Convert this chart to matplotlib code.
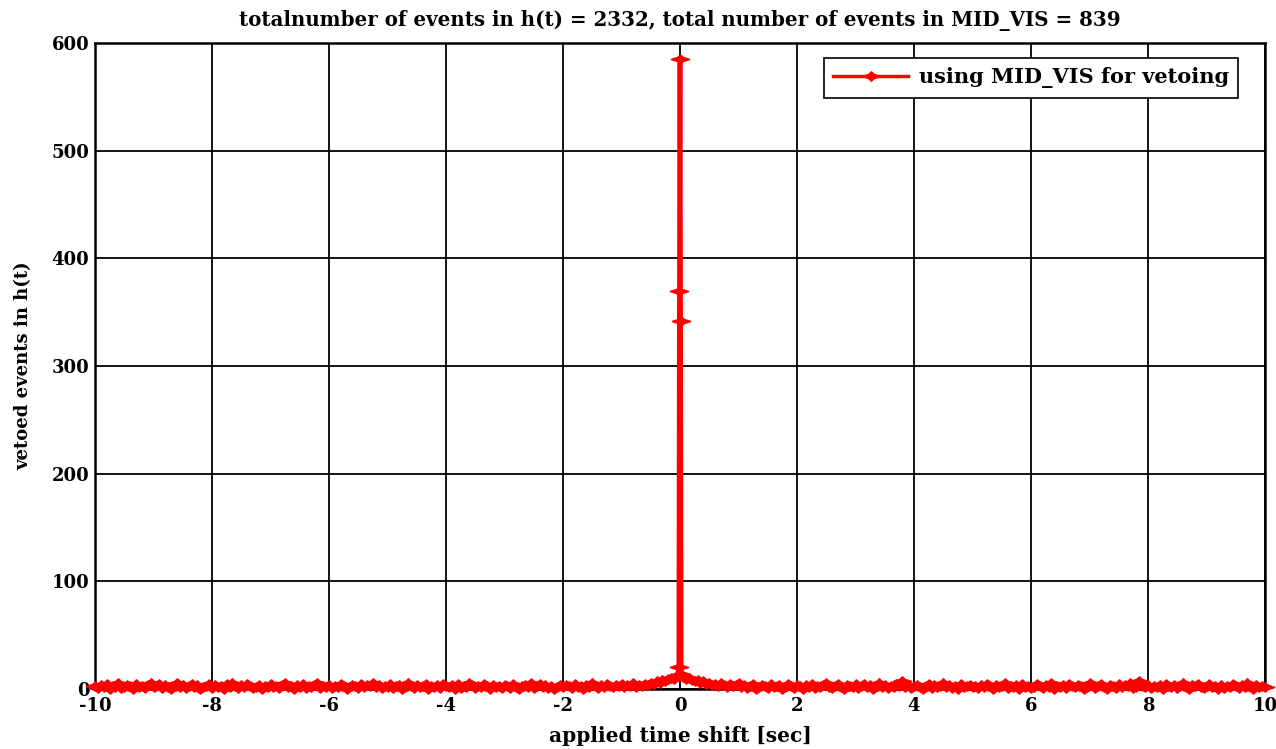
import numpy as np
import matplotlib
matplotlib.use("Agg")
import matplotlib.pyplot as plt
from matplotlib.path import Path

# Vetoed h(t) events per applied time shift (0.05 s steps, x = 0 handled separately)
neg_counts = [
    3, 1, 4, 2, 5, 0, 3, 2, 6, 1, 2, 4, 3, 0, 5, 2, 3, 1, 4, 6,
    2, 3, 5, 1, 4, 2, 0, 3, 6, 2, 4, 1, 3, 5, 2, 4, 0, 2, 3, 5,
    1, 4, 2, 3, 0, 5, 2, 6, 3, 1, 4, 2, 5, 3, 1, 2, 4, 0, 3, 2,
    5, 2, 3, 1, 4, 6, 2, 3, 0, 4, 2, 5, 1, 3, 2, 4, 6, 1, 3, 2,
    4, 1, 3, 2, 5, 3, 0, 2, 4, 3, 1, 5, 2, 4, 3, 6, 2, 4, 1, 3,
    2, 5, 1, 3, 4, 0, 2, 6, 3, 1, 4, 2, 3, 5, 0, 3, 2, 4, 1, 5,
    3, 2, 4, 0, 5, 1, 3, 2, 6, 4, 1, 3, 2, 5, 3, 0, 4, 2, 3, 1,
    4, 3, 1, 5, 2, 0, 3, 4, 2, 6, 1, 3, 5, 2, 4, 1, 3, 0, 2, 4,
    2, 4, 3, 1, 5, 2, 3, 0, 4, 2, 6, 3, 1, 4, 2, 5, 3, 2, 4, 3,
    5, 2, 4, 3, 6, 2, 4, 3, 5, 4, 6, 5, 7, 6, 8, 7, 9, 10, 9, 12,
]
pos_counts = [
    11, 9, 10, 8, 7, 8, 6, 7, 5, 6, 4, 5, 3, 6, 4, 2, 5, 3, 4, 6,
    2, 4, 1, 3, 5, 0, 2, 4, 3, 1, 5, 2, 3, 4, 0, 2, 5, 3, 1, 4,
    3, 0, 4, 2, 5, 1, 3, 2, 4, 6, 2, 1, 3, 5, 2, 0, 4, 3, 2, 5,
    1, 3, 5, 2, 4, 0, 3, 6, 2, 4, 1, 3, 2, 5, 3, 7, 2, 4, 1, 3,
    4, 2, 0, 3, 5, 1, 4, 2, 3, 6, 2, 4, 1, 3, 0, 5, 2, 3, 4, 2,
    3, 1, 4, 2, 5, 3, 0, 4, 2, 3, 6, 1, 3, 2, 4, 0, 5, 2, 3, 1,
    2, 5, 3, 1, 4, 2, 6, 0, 3, 2, 4, 1, 5, 3, 2, 4, 3, 0, 2, 6,
    4, 1, 3, 5, 2, 0, 4, 3, 1, 5, 2, 4, 3, 6, 1, 2, 7, 3, 2, 4,
    1, 3, 2, 4, 0, 5, 3, 2, 4, 1, 3, 6, 2, 0, 4, 3, 5, 2, 1, 3,
    5, 2, 3, 0, 4, 1, 3, 2, 5, 3, 1, 4, 2, 6, 3, 0, 4, 2, 3, 2,
]
# Fine-resolution shifts around zero lag
peak_shifts = [-0.02, -0.01, 0.0, 0.01, 0.02]
peak_counts = [20, 370, 585, 342, 14]

title_text = ("totalnumber of events in h(t) = 2332, "
              "total number of events in MID_VIS = 839")
x_label = "applied time shift [sec]"
y_label = "vetoed events in h(t)"
legend_label = "using MID_VIS for vetoing"
x_ticks = [-10, -8, -6, -4, -2, 0, 2, 4, 6, 8, 10]
y_ticks = [0, 100, 200, 300, 400, 500, 600]

neg_shifts = np.arange(-200, 0) / 20.0
pos_shifts = np.arange(1, 201) / 20.0
shifts = np.concatenate([neg_shifts, peak_shifts, pos_shifts])
counts = np.concatenate([neg_counts, peak_counts, pos_counts])

# Flattened four-pointed star marker with a solid centre
star = Path([(-1.0, 0.0), (-0.3, 0.22), (0.0, 0.5), (0.3, 0.22),
             (1.0, 0.0), (0.3, -0.22), (0.0, -0.5), (-0.3, -0.22),
             (-1.0, 0.0)],
            [Path.MOVETO] + [Path.LINETO] * 7 + [Path.CLOSEPOLY])

font = dict(family="DejaVu Serif", weight="bold")

fig = plt.figure(figsize=(12.76, 7.49), dpi=100)
ax = fig.add_axes([95 / 1276, 1 - 689 / 749, 1170 / 1276, 646 / 749])

ax.plot(shifts, counts, color="#ff0000", lw=3.4, marker=star,
        markersize=13, markeredgewidth=1.2, markeredgecolor="#ff0000",
        label=legend_label, zorder=3, clip_on=False)

ax.set_xlim(-10, 10)
ax.set_ylim(0, 600)
ax.set_xticks(x_ticks)
ax.set_yticks(y_ticks)
ax.set_xticklabels([str(t) for t in x_ticks], fontsize=13, **font)
ax.set_yticklabels([str(t) for t in y_ticks], fontsize=13, **font)
ax.tick_params(axis="y", length=0, pad=4)
ax.tick_params(axis="x", length=0, pad=6)
ax.grid(True, color="black", lw=1.3)
ax.set_axisbelow(True)
for s in ax.spines.values():
    s.set_linewidth(1.8)
    s.set_color("black")

ax.set_title(title_text, fontsize=14.3, pad=12, **font)
ax.set_xlabel(x_label, fontsize=14.5, labelpad=8, **font)
ax.set_ylabel(y_label, fontsize=13, labelpad=14, **font)

leg = ax.legend(loc="upper right", prop=dict(family="DejaVu Serif",
                weight="bold", size=15), fancybox=False, framealpha=1,
                edgecolor="black", borderpad=0.45, handlelength=3.6,
                handletextpad=0.5, borderaxespad=0,
                bbox_to_anchor=(0.977, 0.977))
leg.get_frame().set_linewidth(1.2)
for h in leg.get_lines():
    h.set_linewidth(2.5)

fig.savefig("out.png", dpi=100)
